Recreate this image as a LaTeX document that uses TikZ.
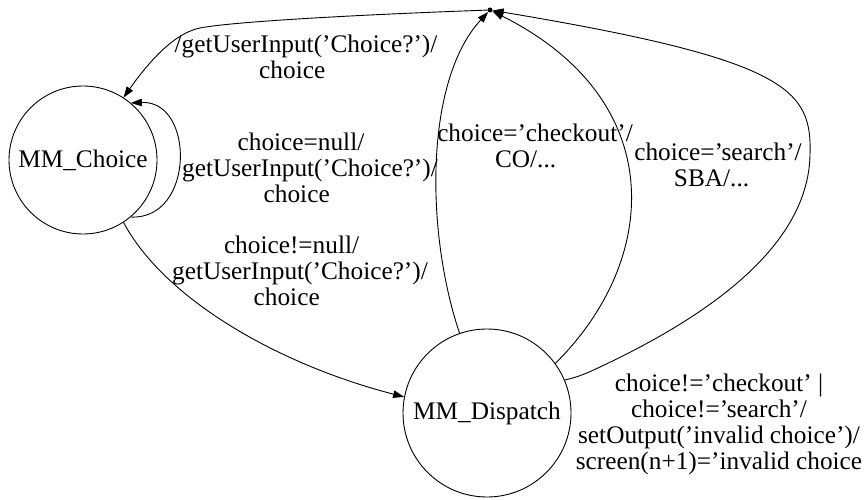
\documentclass[tikz,border=0pt]{standalone}
\usepackage{fontspec}
\setmainfont{Liberation Serif}
\usetikzlibrary{arrows.meta}
% #1 = widest line of the label, #2 = this line; indents #2 so that the
% lines sit slightly left of a strictly centred layout
\newcommand{\gvline}[2]{%
  \setbox0\hbox{#1}\setbox2\hbox{#2}%
  \hspace*{\dimexpr(\wd0-\wd2)*43/100\relax}#2}
\begin{document}
\begin{tikzpicture}[x=1pt,y=-1pt,
  every node/.style={font=\fontsize{25.3}{26}\selectfont},
  state/.style={circle, draw, line width=0.9pt, inner sep=0pt, minimum size=168pt},
  edge/.style={draw, line width=0.9pt, -{Triangle[length=11pt,width=7.5pt]}},
  lbl/.style={align=center, inner sep=0pt},
  lbll/.style={align=left, inner sep=0pt}]
\useasboundingbox (0,0) rectangle (864,500);

% states
\node[state, minimum size=148pt] (mc) at (83,160) {MM\_Choice};
\node[state] (md) at (487,413) {MM\_Dispatch};
\node[circle, fill, inner sep=0pt, minimum size=5pt] (top) at (490,10) {};

% transition labels
\node[lbll] (l1) at (306,57)
  {/getUserInput('Choice?')/\\\gvline{/getUserInput('Choice?')/}{choice}};
\node[lbll] (l2) at (310,168)
  {\gvline{getUserInput('Choice?')/}{choice=null/}\\getUserInput('Choice?')/\\\gvline{getUserInput('Choice?')/}{choice}};
\node[lbll] (l3) at (300,271)
  {\gvline{getUserInput('Choice?')/}{choice!=null/}\\getUserInput('Choice?')/\\\gvline{getUserInput('Choice?')/}{choice}};
\node[lbll] (l4) at (535,146)
  {choice='checkout'/\\\gvline{choice='checkout'/}{CO/...}};
\node[lbll] (l5) at (718,165)
  {choice='search'/\\\gvline{choice='search'/}{SBA/...}};
\node[lbl] (l6) at (719,424)
  {choice!='checkout' |\\choice!='search'/\\setOutput('invalid choice')/\\screen(n+1)='invalid choice};

% transitions
\draw[edge] (top) .. controls (350,15) and (230,22) .. (200,28)
  .. controls (175,33) and (150,60) .. (mc.57);
\draw[edge] (mc.-50) .. controls (195,220) and (195,100) .. (mc.50);
\draw[edge] (mc.-57) .. controls (165,300) and (280,365) .. (md.169);
\draw[edge] (md.109) .. controls (425,230) and (425,80) .. (top);
\draw[edge] (md.36) .. controls (660,260) and (670,100) .. (top);
\draw[edge] (md.23) .. controls (578,377) and (585,374) .. (600,367)
  .. controls (700,320) and (808,250) .. (810,155)
  .. controls (812,90) and (790,60) .. (top);
\end{tikzpicture}
\end{document}
